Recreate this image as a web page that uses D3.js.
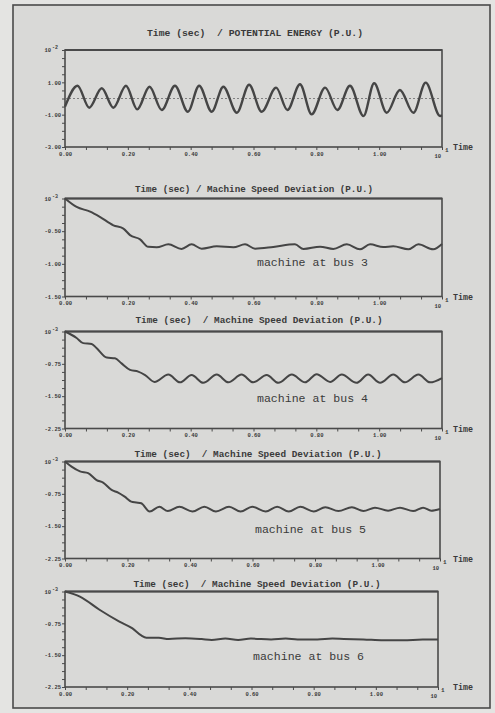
<!DOCTYPE html>
<html><head><meta charset="utf-8">
<script src="https://cdn.jsdelivr.net/npm/d3@7"></script>
<style>
html,body{margin:0;padding:0;background:#e4e4e2;}
svg{display:block;}
text{font-family:"Liberation Mono","DejaVu Sans Mono",monospace;fill:#3a3a3a;}
</style></head><body>
<svg id="chart" width="495" height="713"></svg>
<script>
// ---------- data ----------
const xTickValues = [0, 2, 4, 6, 8, 10];            // seconds
const xTickLabels = ["0.00", "0.20", "0.40", "0.60", "0.80", "1.00"];
const xExponent = "1";

// Panel 1: potential energy (x10^-2 p.u.)
const peTime  = [0, 0.40, 0.77, 1.17, 1.54, 1.94, 2.30, 2.69, 3.08, 3.50, 3.91, 4.27, 4.67, 5.04, 5.47, 5.86, 6.26, 6.72, 7.08, 7.48, 7.85, 8.28, 8.67, 9.07, 9.50, 9.84, 10.24, 10.66, 11.09, 11.48, 11.94, 12.0];
const peValue = [-0.50, 0.79, -0.57, 0.63, -0.57, 0.79, -0.67, 0.73, -0.71, 0.79, -0.82, 0.79, -0.82, 0.73, -0.88, 0.85, -0.82, 0.67, -0.71, 0.88, -0.98, 0.67, -0.71, 0.79, -1.08, 0.94, -0.88, 0.53, -0.88, 0.98, -1.08, -1.05];
const peYTicks  = [1, -1, -3];
const peYLabels = ["1.00", "-1.00", "-3.00"];

// Machine speed deviation (x10^-3 p.u.)
const bus3Time  = [0, 0.37, 0.80, 1.11, 1.54, 1.86, 2.07, 2.39, 2.65, 2.92, 3.29, 3.71, 4.03, 4.35, 4.83, 5.36, 5.73, 6.05, 6.63, 7.32, 7.59, 8.12, 8.54, 8.97, 9.39, 9.71, 10.13, 10.45, 10.93, 11.25, 11.72, 12.0];
const bus3Value = [0, -0.13, -0.20, -0.28, -0.41, -0.46, -0.56, -0.625, -0.74, -0.747, -0.702, -0.773, -0.702, -0.768, -0.732, -0.747, -0.702, -0.768, -0.742, -0.702, -0.773, -0.737, -0.773, -0.702, -0.778, -0.702, -0.742, -0.732, -0.778, -0.702, -0.778, -0.697];
const bus3YTicks  = [-0.5, -1.0, -1.5];
const bus3YLabels = ["-0.50", "-1.00", "-1.50"];

const bus4Time  = [0, 0.37, 0.58, 0.85, 1.01, 1.33, 1.59, 1.80, 2.07, 2.33, 2.55, 2.85, 3.29, 3.66, 4.03, 4.40, 4.83, 5.20, 5.62, 5.99, 6.42, 6.79, 7.22, 7.64, 8.01, 8.44, 8.81, 9.28, 9.65, 10.03, 10.45, 10.82, 11.25, 11.62, 12.0];
const bus4Value = [0, -0.15, -0.27, -0.29, -0.39, -0.605, -0.62, -0.74, -0.89, -0.93, -1.01, -1.17, -1.00, -1.18, -1.01, -1.19, -1.00, -1.18, -1.00, -1.18, -1.01, -1.19, -1.00, -1.18, -0.99, -1.17, -1.00, -1.19, -1.00, -1.19, -1.00, -1.18, -1.00, -1.18, -1.08];

const bus5Time  = [0, 0.21, 0.48, 0.74, 1.01, 1.22, 1.49, 1.70, 1.91, 2.12, 2.28, 2.44, 2.71, 3.02, 3.29, 3.66, 4.08, 4.46, 4.83, 5.25, 5.62, 5.99, 6.42, 6.79, 7.16, 7.53, 7.96, 8.33, 8.75, 9.18, 9.55, 9.92, 10.34, 10.72, 11.14, 11.46, 11.72, 12.0];
const bus5Value = [0, -0.12, -0.23, -0.27, -0.43, -0.49, -0.66, -0.72, -0.815, -0.93, -0.95, -0.97, -1.16, -1.05, -1.15, -1.05, -1.16, -1.05, -1.16, -1.05, -1.16, -1.05, -1.16, -1.05, -1.16, -1.05, -1.16, -1.06, -1.15, -1.06, -1.15, -1.07, -1.14, -1.07, -1.15, -1.07, -1.14, -1.10];

const bus6Time  = [0, 0.48, 1.11, 1.75, 2.17, 2.44, 2.62, 3.02, 3.34, 3.87, 4.40, 4.72, 5.16, 5.57, 5.98, 6.63, 7.10, 7.48, 8.12, 8.60, 8.97, 9.60, 10.24, 10.88, 11.51, 12.0];
const bus6Value = [0, -0.12, -0.43, -0.71, -0.87, -1.03, -1.09, -1.09, -1.12, -1.10, -1.12, -1.14, -1.11, -1.14, -1.11, -1.13, -1.11, -1.13, -1.13, -1.11, -1.12, -1.13, -1.15, -1.15, -1.13, -1.13];
const busYTicks  = [-0.75, -1.50, -2.25];
const busYLabels = ["-0.75", "-1.50", "-2.25"];

const titles = [
  "Time (sec)  / POTENTIAL ENERGY (P.U.)",
  "Time (sec) / Machine Speed Deviation (P.U.)",
  "Time (sec)  / Machine Speed Deviation (P.U.)",
  "Time (sec)  / Machine Speed Deviation (P.U.)",
  "Time (sec)  / Machine Speed Deviation (P.U.)"
];
const notes = ["", "machine at bus 3", "machine at bus 4", "machine at bus 5", "machine at bus 6"];
const yExponents = ["-2", "-3", "-3", "-3", "-3"];

// ---------- layout ----------
const svg = d3.select("#chart");
svg.append("rect").attr("x", 13).attr("y", 5).attr("width", 477).attr("height", 703)
  .attr("fill", "#d9d9d7").attr("stroke", "#4a4a4a").attr("stroke-width", 1.6);

const panels = [
  {t: peTime,   v: peValue,   dom: [-3, 3],     yt: peYTicks,   yl: peYLabels,   minor: 0.5,    top: 50,    bot: 147,   right: 442, titleY: 36,  titleX: 255, titleW: 216, noteX: 0,   noteY: 0,   lw: 2.4},
  {t: bus3Time, v: bus3Value, dom: [-1.5, 0],   yt: bus3YTicks, yl: bus3YLabels, minor: 0.125,  top: 198.5, bot: 296.5, right: 442, titleY: 192, titleX: 254, titleW: 238, noteX: 257, noteY: 266, lw: 2},
  {t: bus4Time, v: bus4Value, dom: [-2.25, 0],  yt: busYTicks,  yl: busYLabels,  minor: 0.1875, top: 331.5, bot: 428.5, right: 442, titleY: 323, titleX: 259, titleW: 247, noteX: 257, noteY: 402, lw: 2},
  {t: bus5Time, v: bus5Value, dom: [-2.25, 0],  yt: busYTicks,  yl: busYLabels,  minor: 0.1875, top: 461.5, bot: 558.5, right: 440, titleY: 457, titleX: 258, titleW: 247, noteX: 255, noteY: 533, lw: 2},
  {t: bus6Time, v: bus6Value, dom: [-2.25, 0],  yt: busYTicks,  yl: busYLabels,  minor: 0.1875, top: 591.5, bot: 687,   right: 438, titleY: 587, titleX: 257, titleW: 247, noteX: 253, noteY: 660, lw: 2}
];
const left = 65;
const ink = "#4a4a4a";

panels.forEach((p, i) => {
  const g = svg.append("g");
  const x = d3.scaleLinear().domain([0, 12]).range([left, p.right]);
  const y = d3.scaleLinear().domain(p.dom).range([p.bot, p.top]);

  // x axis ticks (major + minor every 2/3 s)
  const xAll = d3.range(19).map(k => k * 2 / 3);
  const xAxis = d3.axisBottom(x).tickValues(xAll).tickSize(3).tickPadding(2)
    .tickFormat((d, k) => (k % 3 === 0 && k / 3 < xTickLabels.length) ? xTickLabels[k / 3] : "");
  const gx = g.append("g").attr("transform", `translate(0,${p.bot})`).call(xAxis);
  gx.select(".domain").remove();
  gx.selectAll("line").attr("stroke", ink).attr("stroke-width", 1);
  gx.selectAll("text").attr("font-size", 5.5).attr("font-weight", "bold").attr("fill", "#3a3a3a").attr("font-family", "Liberation Mono");

  // x exponent
  const ex = g.append("text").attr("x", p.right - 1).attr("y", p.bot + 11).attr("text-anchor", "end")
    .attr("font-size", 5.5).attr("font-weight", "bold").text("10");
  g.append("text").attr("x", p.right + 3).attr("y", p.bot + 5).attr("font-size", 6).attr("font-weight", "bold").text(xExponent);

  // y axis ticks
  const n = Math.round((p.dom[1] - p.dom[0]) / p.minor);
  const yAll = d3.range(n + 1).map(k => p.dom[0] + k * p.minor);
  const yAxis = d3.axisLeft(y).tickValues(yAll).tickSize(3).tickPadding(1)
    .tickFormat(d => {
      const idx = p.yt.findIndex(v => Math.abs(v - d) < 1e-6);
      return idx >= 0 ? p.yl[idx] : "";
    });
  const gy = g.append("g").attr("transform", `translate(${left},0)`).call(yAxis);
  gy.select(".domain").remove();
  gy.selectAll("line").attr("stroke", ink).attr("stroke-width", 1);
  gy.selectAll("text").attr("font-size", 5.5).attr("font-weight", "bold").attr("fill", "#3a3a3a").attr("font-family", "Liberation Mono");

  // y exponent
  const ye = g.append("text").attr("x", 51).attr("y", p.top + 2).attr("text-anchor", "end")
    .attr("font-size", 5.5).attr("font-weight", "bold").text("10");
  g.append("text").attr("x", 52).attr("y", p.top - 1).attr("font-size", 5).attr("font-weight", "bold").text(yExponents[i]);

  // frame
  g.append("rect").attr("x", left).attr("y", p.top).attr("width", p.right - left).attr("height", p.bot - p.top)
    .attr("fill", "none").attr("stroke", ink).attr("stroke-width", 1.6);
  g.append("line").attr("x1", left).attr("x2", p.right).attr("y1", p.top).attr("y2", p.top)
    .attr("stroke", ink).attr("stroke-width", 2.2);

  // zero reference line for panel 1
  if (i === 0) {
    g.append("line").attr("x1", left).attr("x2", p.right).attr("y1", y(0)).attr("y2", y(0))
      .attr("stroke", "#6a6a6a").attr("stroke-width", 0.8).attr("stroke-dasharray", "2,2");
  }

  // curve
  const pts = p.t.map((t, k) => [t, p.v[k]]);
  const line = d3.line().x(d => x(d[0])).y(d => y(d[1])).curve(d3.curveMonotoneX);
  g.append("path").datum(pts).attr("d", line).attr("fill", "none")
    .attr("stroke", "#454545").attr("stroke-width", p.lw).attr("stroke-linejoin", "round");

  // title
  g.append("text").attr("x", p.titleX).attr("y", p.titleY).attr("text-anchor", "middle")
    .attr("font-size", 9.5).attr("font-weight", "bold").style("white-space", "pre")
    .attr("textLength", p.titleW).attr("lengthAdjust", "spacingAndGlyphs").text(titles[i]);

  // note
  if (notes[i]) {
    g.append("text").attr("x", p.noteX).attr("y", p.noteY).attr("font-size", 11.5)
      .attr("textLength", 111).attr("lengthAdjust", "spacingAndGlyphs").text(notes[i]);
  }

  // "Time" label
  g.append("text").attr("x", 453).attr("y", p.bot + 3).attr("font-size", 8.5).attr("font-weight", "bold")
    .attr("textLength", 20).attr("lengthAdjust", "spacingAndGlyphs").text("Time");
});
</script>
</body></html>
